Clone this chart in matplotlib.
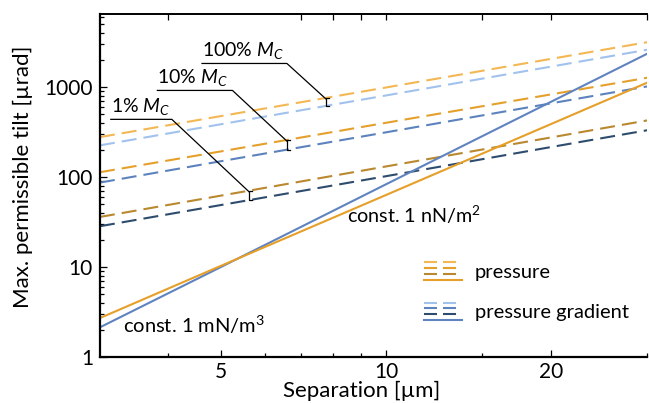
import numpy as np
import matplotlib
matplotlib.use("Agg")
import matplotlib.pyplot as plt
from matplotlib.legend_handler import HandlerBase
from matplotlib.lines import Line2D
from matplotlib.ticker import FixedLocator, FixedFormatter, NullFormatter

plt.rcParams["font.family"] = ["Lato", "DejaVu Sans"]
plt.rcParams["mathtext.fontset"] = "custom"
plt.rcParams["mathtext.rm"] = "Lato"
plt.rcParams["mathtext.it"] = "Lato:italic"

# separation in um, tilt in urad
sep = [3, 5, 10, 20, 30]
p_100 = [278, 477, 991, 2061, 3162]
g_100 = [225, 387, 808, 1690, 2604]
p_10 = [113, 193, 401, 829, 1271]
g_10 = [86.6, 150, 314, 659, 1018]
p_1 = [35.9, 62.1, 131, 275, 426]
g_1 = [28.3, 48.8, 102, 215, 331]
p_const = [2.69, 10.3, 63, 387, 1120]
g_const = [2.12, 10.0, 82.9, 684, 2350]

x_major = [5, 10, 20]
x_minor = [4, 6, 7, 8, 9, 15, 30]
x_top = [4, 7, 8, 9, 10, 15, 20, 30]
y_major = [1, 10, 100, 1000]

ORANGE = ["#F3B753", "#E5A02C", "#BA882E"]
BLUE = ["#A2C2EE", "#5C83BE", "#2E4C6D"]
ORANGE_SOLID = "#E69F28"
BLUE_SOLID = "#5E83BE"
DASH = (0, (7.2, 3.4))
LW = 1.5
FS_TICK = 15
FS_LABEL = 16
FS_TEXT = 14


class KeySwatch:
    def __init__(self, dashed, solid):
        self.dashed = dashed
        self.solid = solid


class SwatchHandler(HandlerBase):
    def create_artists(self, legend, orig_handle, xdescent, ydescent,
                       width, height, fontsize, trans):
        x0, y0 = -xdescent, -ydescent
        artists = []
        rows = [0.95, 0.66, 0.37]
        for frac, c in zip(rows, orig_handle.dashed):
            y = y0 + frac * height
            for a, b in [(0.0, 0.34), (0.5, 0.84)]:
                ln = Line2D([x0 + a * width, x0 + b * width], [y, y],
                            color=c, lw=LW, solid_capstyle="butt")
                ln.set_transform(trans)
                artists.append(ln)
        y = y0 + 0.08 * height
        ln = Line2D([x0, x0 + width], [y, y], color=orig_handle.solid, lw=LW)
        ln.set_transform(trans)
        artists.append(ln)
        return artists


fig = plt.figure(figsize=(6.49, 4.03), dpi=100)
ax = fig.add_axes([0.154, 0.115, 0.843, 0.85])
ax.set_xscale("log")
ax.set_yscale("log")

for vals, c in zip([p_100, p_10, p_1], ORANGE):
    ax.plot(sep, vals, color=c, lw=LW, linestyle=DASH)
for vals, c in zip([g_100, g_10, g_1], BLUE):
    ax.plot(sep, vals, color=c, lw=LW, linestyle=DASH)
ax.plot(sep, g_const, color=BLUE_SOLID, lw=LW)
ax.plot(sep, p_const, color=ORANGE_SOLID, lw=LW)


def loglog_at(x, vals):
    return 10 ** np.interp(np.log10(x), np.log10(sep), np.log10(vals))


# level labels: text start, underline end, underline height, bracket x
callouts = [
    ("100%", 4.61, 6.59, 1834, 7.77, p_100, g_100),
    ("10%", 3.82, 5.24, 919, 6.59, p_10, g_10),
    ("1%", 3.14, 4.06, 438, 5.62, p_1, g_1),
]
for lab, xt, xu, yu, xb, pv, gv in callouts:
    top = loglog_at(xb, pv)
    bot = loglog_at(xb, gv)
    ax.annotate(lab + r" $M_C$", (xt, yu), xytext=(0, 1.5),
                textcoords="offset points", ha="left", va="bottom",
                fontsize=FS_TEXT)
    ax.plot([xt, xu, xb], [yu, yu, top * 0.97], color="black", lw=0.9)
    ax.plot([xb * 1.012, xb, xb, xb * 1.012], [top, top, bot, bot],
            color="black", lw=0.9)

ax.text(3.3, 1.83, r"const. 1 mN/$\mathrm{m}^3$", fontsize=14.5,
        ha="left", va="baseline")
ax.text(8.5, 31, r"const. 1 nN/$\mathrm{m}^2$", fontsize=14.2,
        ha="left", va="baseline")

keys = [KeySwatch(ORANGE, ORANGE_SOLID), KeySwatch(BLUE, BLUE_SOLID)]
ax.legend(keys, ["pressure", "pressure gradient"],
          handler_map={KeySwatch: SwatchHandler()},
          loc="upper left", bbox_to_anchor=(0.592, 0.278), frameon=False,
          fontsize=14.5, handlelength=1.9, handleheight=1.15,
          handletextpad=0.62, labelspacing=1.0, borderpad=0,
          borderaxespad=0)

ax.set_xlim(3, 30)
ax.set_ylim(1, 6500)

ax.xaxis.set_major_locator(FixedLocator(x_major))
ax.xaxis.set_major_formatter(FixedFormatter([str(v) for v in x_major]))
ax.xaxis.set_minor_locator(FixedLocator(x_minor))
ax.xaxis.set_minor_formatter(NullFormatter())
ax.yaxis.set_major_locator(FixedLocator(y_major))
ax.yaxis.set_major_formatter(FixedFormatter([str(v) for v in y_major]))

ax.tick_params(which="both", direction="in", width=0.9, labelsize=FS_TICK)
ax.tick_params(which="major", length=5)
ax.tick_params(which="minor", length=3)
ax.tick_params(axis="x", pad=4)
ax.tick_params(axis="y", pad=5)

top_ax = ax.secondary_xaxis("top")
top_ax.set_xticks(x_top)
top_ax.xaxis.set_minor_locator(FixedLocator([]))
top_ax.tick_params(which="both", direction="in", length=4, width=0.9,
                   labeltop=False)
top_ax.spines["top"].set_linewidth(1.4)

for s in ["left", "bottom"]:
    ax.spines[s].set_linewidth(1.6)
ax.spines["top"].set_visible(False)
ax.spines["right"].set_visible(False)

ax.set_xlabel("Separation [µm]", fontsize=FS_LABEL)
ax.xaxis.set_label_coords(0.479, -0.072)
ax.set_ylabel("Max. permissible tilt [µrad]", fontsize=FS_LABEL)
ax.yaxis.set_label_coords(-0.1225, 0.526)

fig.savefig("out.png", dpi=100)
